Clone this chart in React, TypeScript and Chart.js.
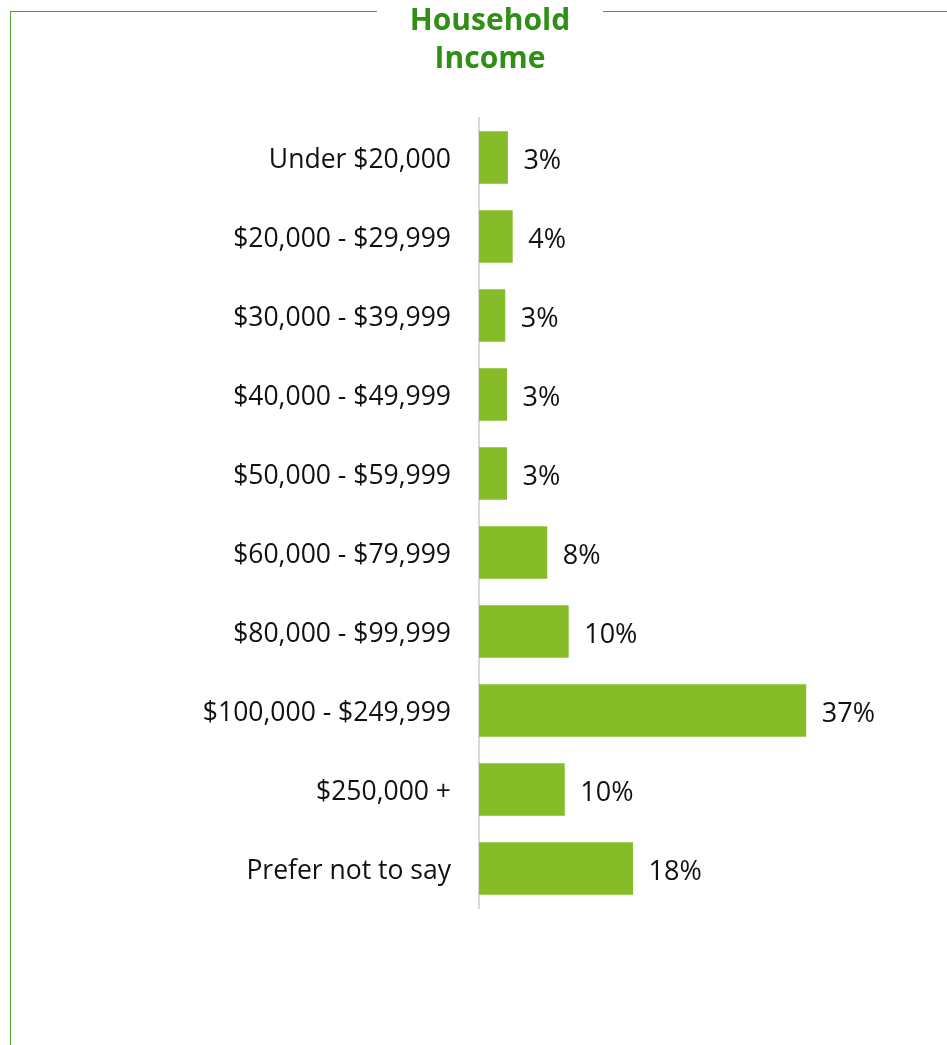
import React, { useEffect, useRef } from "react";
import { Chart, registerables } from "chart.js";

Chart.register(...registerables);

const categories = [
  "Under $20,000",
  "$20,000 - $29,999",
  "$30,000 - $39,999",
  "$40,000 - $49,999",
  "$50,000 - $59,999",
  "$60,000 - $79,999",
  "$80,000 - $99,999",
  "$100,000 - $249,999",
  "$250,000 +",
  "Prefer not to say",
];
const values = [3.3, 3.85, 3.0, 3.2, 3.2, 7.8, 10.25, 37.4, 9.8, 17.6];
const valueLabels = ["3%", "4%", "3%", "3%", "3%", "8%", "10%", "37%", "10%", "18%"];
const titleLines = ["Household", "Income"];

const FONT = "'Open Sans', 'Noto Sans', sans-serif";

const valueLabelPlugin = {
  id: "valueLabels",
  afterDatasetsDraw(chart: any) {
    const ctx = chart.ctx;
    const meta = chart.getDatasetMeta(0);
    ctx.save();
    ctx.font = `27px ${FONT}`;
    ctx.fillStyle = "#111";
    ctx.textAlign = "left";
    ctx.textBaseline = "middle";
    meta.data.forEach((bar: any, i: number) => {
      ctx.fillText(valueLabels[i], bar.x + 15.5, bar.y + 4);
    });
    ctx.restore();
  },
};

export default function App() {
  const canvasRef = useRef<HTMLCanvasElement | null>(null);

  useEffect(() => {
    document.body.style.margin = "0";
    const canvas = canvasRef.current;
    if (!canvas) return;
    const chart = new Chart(canvas, {
      type: "bar",
      data: {
        labels: categories,
        datasets: [
          {
            data: values,
            backgroundColor: "#86bc28",
            borderWidth: 0,
            barPercentage: 0.665,
            categoryPercentage: 1,
          },
        ],
      },
      options: {
        indexAxis: "y",
        animation: false,
        responsive: false,
        maintainAspectRatio: false,
        layout: { padding: { left: 0, right: 118, top: 118, bottom: 137 } },
        plugins: {
          legend: { display: false },
          tooltip: { enabled: false },
          title: { display: false },
        },
        scales: {
          x: {
            display: false,
            min: 0,
            max: 40,
          },
          y: {
            grid: { display: false, drawTicks: false },
            border: { display: true, color: "#d9d9d9", width: 2 },
            ticks: {
              color: "#111",
              padding: 28,
              labelOffset: 3,
              font: { family: FONT, size: 26.5 },
            },
            afterFit: (scale: any) => {
              scale.width = 479;
            },
          },
        },
      },
      plugins: [valueLabelPlugin],
    });
    return () => chart.destroy();
  }, []);

  const lineColor = "#4ea62f";
  return (
    <div style={{ position: "relative", width: 947, height: 1045, background: "#fff", overflow: "hidden" }}>
      <canvas
        ref={canvasRef}
        width={947}
        height={1045}
        style={{ position: "absolute", left: 0, top: 0, width: 947, height: 1045 }}
      />
      <div style={{ position: "absolute", left: 10, top: 11, width: 367, height: 1, background: lineColor }} />
      <div style={{ position: "absolute", left: 603, top: 11, width: 344, height: 1, background: lineColor }} />
      <div style={{ position: "absolute", left: 10, top: 11, width: 1, height: 1034, background: lineColor }} />
      <div
        style={{
          position: "absolute",
          left: 377,
          width: 226,
          top: 0,
          textAlign: "center",
          fontFamily: FONT,
          fontWeight: 700,
          fontSize: 30,
          lineHeight: "38px",
          color: "#2f8f17",
        }}
      >
        {titleLines.map((t) => (
          <div key={t}>{t}</div>
        ))}
      </div>
    </div>
  );
}
